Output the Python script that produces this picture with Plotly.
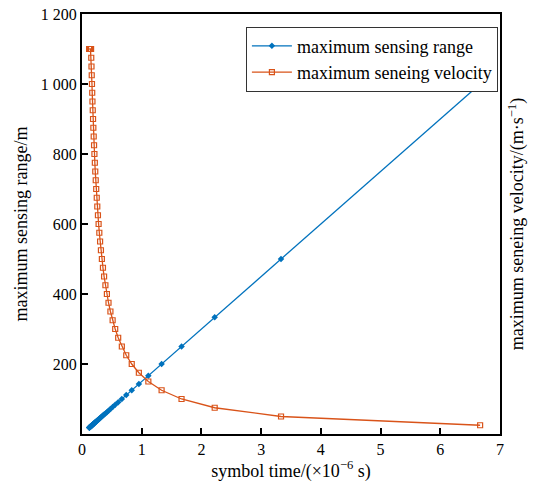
import plotly.graph_objects as go

# symbol time (x 10^-6 s)
symbol_time = [6.667, 3.333, 2.222, 1.667, 1.333, 1.111, 0.952, 0.833, 0.741, 0.667,
               0.606, 0.556, 0.513, 0.476, 0.444, 0.417, 0.392, 0.370, 0.351, 0.333,
               0.317, 0.303, 0.290, 0.278, 0.267, 0.256, 0.247, 0.238, 0.230, 0.222,
               0.215, 0.208, 0.202, 0.196, 0.190, 0.185, 0.180, 0.175, 0.171, 0.167,
               0.163, 0.159, 0.155, 0.152, 0.148, 0.145, 0.142, 0.139, 0.136, 0.133,
               0.131, 0.128, 0.126, 0.123, 0.121]

# maximum sensing range (m)
sensing_range = [1000, 500, 333.3, 250, 200, 166.7, 142.9, 125, 111.1, 100,
                 90.9, 83.3, 76.9, 71.4, 66.7, 62.5, 58.8, 55.6, 52.6, 50,
                 47.6, 45.5, 43.5, 41.7, 40, 38.5, 37.0, 35.7, 34.5, 33.3,
                 32.3, 31.3, 30.3, 29.4, 28.6, 27.8, 27.0, 26.3, 25.6, 25,
                 24.4, 23.8, 23.3, 22.7, 22.2, 21.7, 21.3, 20.8, 20.4, 20.0,
                 19.6, 19.2, 18.9, 18.5, 18.2]

# maximum sensing velocity (m/s)
sensing_velocity = [25, 50, 75, 100, 125, 150, 175, 200, 225, 250,
                    275, 300, 325, 350, 375, 400, 425, 450, 475, 500,
                    525, 550, 575, 600, 625, 650, 675, 700, 725, 750,
                    775, 800, 825, 850, 875, 900, 925, 950, 975, 1000,
                    1025, 1050, 1075, 1100, 1100, 1100, 1100, 1100, 1100, 1100,
                    1100, 1100, 1100, 1100, 1100]

x_ticks = [0, 1, 2, 3, 4, 5, 6, 7]
y_tickvals = [200, 400, 600, 800, 1000, 1200]
y_ticktext = ["200", "400", "600", "800", "1 000", "1 200"]

BLUE = "#0072BD"
RED = "#D95319"
FONT = "Liberation Serif"

fig = go.Figure()
fig.add_trace(go.Scatter(
    x=symbol_time, y=sensing_range, mode="lines+markers",
    name="maximum sensing range",
    line=dict(color=BLUE, width=1.3),
    marker=dict(symbol="diamond", size=5, color=BLUE),
))
fig.add_trace(go.Scatter(
    x=symbol_time, y=sensing_velocity, mode="lines+markers",
    name="maximum seneing velocity", yaxis="y2",
    line=dict(color=RED, width=1.3),
    marker=dict(symbol="square-open", size=5, color=RED, line=dict(width=1.2)),
))

fig.update_layout(
    width=531, height=476,
    margin=dict(l=74, r=39, t=6, b=50, autoexpand=False),
    paper_bgcolor="white", plot_bgcolor="white",
    font=dict(family=FONT, size=16, color="black"),
    showlegend=True,
    legend=dict(
        x=0.995, y=0.97, xanchor="right", yanchor="top",
        bgcolor="white", bordercolor="#333333", borderwidth=1,
        font=dict(family=FONT, size=18, color="black"),
        tracegroupgap=0, itemwidth=40,
    ),
    xaxis=dict(
        range=[0, 7], tickvals=x_ticks, ticks="inside", ticklen=6,
        tickwidth=1.5, tickcolor="black", automargin=False,
        ticklabeloverflow="allow",
        showline=True, linecolor="black", linewidth=2, mirror=True,
        showgrid=False, zeroline=False,
        tickfont=dict(family=FONT, size=16),
        title=dict(text="symbol time/(×10<sup>−6</sup> s)", standoff=0,
                   font=dict(family=FONT, size=18)),
    ),
    yaxis=dict(
        range=[0, 1200], tickvals=y_tickvals, ticktext=y_ticktext,
        ticks="inside", ticklen=6, tickwidth=1.5, tickcolor="black",
        automargin=False, ticklabeloverflow="allow",
        showline=True, linecolor="black", linewidth=2, mirror=True,
        showgrid=False, zeroline=False,
        tickfont=dict(family=FONT, size=16),
        title=dict(text="maximum sensing range/m", standoff=8,
                   font=dict(family=FONT, size=18)),
    ),
    yaxis2=dict(
        range=[0, 1200], overlaying="y", side="right", automargin=False,
        showticklabels=False, ticks="", showline=False, showgrid=False,
        zeroline=False,
        title=dict(text="maximum seneing velocity/(m·s<sup>−1</sup>)", standoff=10,
                   font=dict(family=FONT, size=18)),
    ),
)

fig.write_html("out.html")
